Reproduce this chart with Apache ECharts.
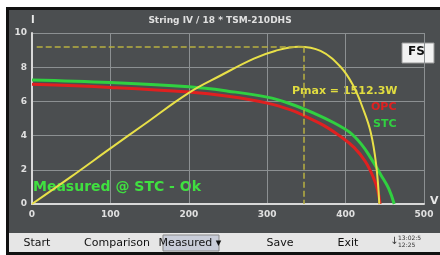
<!DOCTYPE html>
<html>
<head>
<meta charset="utf-8">
<script src="https://cdn.jsdelivr.net/npm/echarts@6/dist/echarts.min.js"></script>
<style>
html,body{margin:0;padding:0;background:#fff;}
#main{width:440px;height:255px;}
</style>
</head>
<body>
<div id="main"></div>
<script>
// curva potenza (scala schermo)
var powerV = [0, 50, 100, 142, 200, 240, 283, 310, 340, 368, 394, 410, 422, 432, 439, 443];
var powerI = [0, 1.6, 3.25, 4.62, 6.5, 7.5, 8.5, 8.95, 9.2, 8.95, 8.0, 6.9, 5.6, 4.2, 2.3, 0];
// curva I-V misurata (OPC)
var opcV = [0, 100, 200, 250, 300, 330, 350, 372, 392, 411, 425, 435, 441, 444];
var opcI = [7.0, 6.82, 6.55, 6.3, 5.9, 5.5, 5.1, 4.6, 4.0, 3.3, 2.5, 1.6, 0.8, 0];
// curva I-V riportata a STC
var stcV = [0, 100, 200, 250, 300, 330, 360, 385, 405, 420, 432, 445, 455, 462];
var stcI = [7.25, 7.1, 6.85, 6.6, 6.25, 5.85, 5.3, 4.75, 4.2, 3.5, 2.7, 1.7, 0.9, 0];
var pmaxV = 347, pmaxLevel = 9.2;
var xTicks = [0, 100, 200, 300, 400, 500];
var yTicks = [0, 2, 4, 6, 8, 10];
var toolbarLabels = ['Start', 'Comparison', 'Measured \u25BE', 'Save', 'Exit'];

function pairs(xs, ys){
    return xs.map(function(x, i){ return [x, ys[i]]; });
}

var screen = '#4b4e50';
var font = 'DejaVu Sans';
var chart = echarts.init(document.getElementById('main'));

var g = [
    // cornice
    {type:'rect', z:-10, shape:{x:6,y:7,width:434,height:248}, style:{fill:'#111'}},
    {type:'rect', z:-9, shape:{x:9,y:10,width:431,height:223}, style:{fill:screen}},
    {type:'rect', z:-9, shape:{x:9,y:233,width:431,height:19}, style:{fill:'#e6e6e6'}},
    // titolo e nomi assi
    {type:'text', left:'center', top:16, style:{text:'String IV / 18 * TSM-210DHS', fill:'#e0e0e0', font:'bold 9px '+font}},
    {type:'text', left:31, top:15, style:{text:'I', fill:'#e8e8e8', font:'bold 10px '+font}},
    {type:'text', left:430, top:196, style:{text:'V', fill:'#e8e8e8', font:'bold 11px '+font}},
    // FS
    {type:'rect', shape:{x:402,y:43,width:32,height:20}, style:{fill:'#f2f2f2', stroke:'#999', lineWidth:1}},
    {type:'text', left:408, top:46, style:{text:'FS', fill:'#111', font:'bold 12px '+font}},
    // etichette
    {type:'text', left:292, top:86, style:{text:'Pmax = 1512.3W', fill:'#e0dc40', font:'bold 11px '+font}},
    {type:'text', left:371, top:102, style:{text:'OPC', fill:'#e02020', font:'bold 11px '+font}},
    {type:'text', left:373, top:119, style:{text:'STC', fill:'#30d040', font:'bold 11px '+font}},
    {type:'text', left:33, top:180, style:{text:'Measured @ STC - Ok', fill:'#40e040', font:'bold 14px '+font}},
    // barra comandi
    {type:'rect', shape:{x:163,y:235,width:56,height:16}, style:{fill:'#c8ccd8', stroke:'#888', lineWidth:1}},
    {type:'text', left:390, top:236, style:{text:'\u2193', fill:'#333', font:'10px '+font}},
    {type:'text', left:398, top:235, style:{text:'13:02:5\n12:25', fill:'#333', font:'6px '+font, lineHeight:7}}
];
var toolbarX = [37, 117, 190, 280, 348];
toolbarLabels.forEach(function(t, i){
    g.push({type:'text', x:toolbarX[i], y:243, style:{text:t, fill:'#111', font:'11px '+font, align:'center', verticalAlign:'middle'}});
});

var option = {
    backgroundColor:'#fff',
    animation:false,
    grid:{left:32, right:16, top:33, bottom:51},
    xAxis:{
        type:'value', min:0, max:500, interval:100,
        axisLine:{onZero:false, lineStyle:{color:'#d8d8d8', width:2}},
        axisTick:{show:false},
        axisLabel:{color:'#e0e0e0', fontSize:9, fontWeight:'bold', fontFamily:font, margin:6,
            customValues:xTicks},
        splitLine:{show:true, lineStyle:{color:'#8c9092', width:1}}
    },
    yAxis:{
        type:'value', min:0, max:10, interval:2,
        axisLine:{show:true, lineStyle:{color:'#d8d8d8', width:2}},
        axisTick:{show:false},
        axisLabel:{color:'#e0e0e0', fontSize:9, fontWeight:'bold', fontFamily:font, margin:5,
            customValues:yTicks},
        splitLine:{show:true, lineStyle:{color:'#8c9092', width:1}}
    },
    graphic:g,
    series:[
        {
            name:'OPC', type:'line', data:pairs(opcV, opcI), smooth:0.4,
            symbol:'none', lineStyle:{color:'#e02020', width:3}, z:2
        },
        {
            name:'STC', type:'line', data:pairs(stcV, stcI), smooth:0.4,
            symbol:'none', lineStyle:{color:'#30d040', width:3}, z:3
        },
        {
            name:'P', type:'line', data:pairs(powerV, powerI), smooth:0.4,
            symbol:'none', lineStyle:{color:'#e8e048', width:2}, z:4,
            markLine:{
                silent:true, symbol:'none', label:{show:false},
                lineStyle:{color:'#b8b040', width:1.5, type:'dashed'},
                data:[
                    [{coord:[6, pmaxLevel]}, {coord:[pmaxV, pmaxLevel]}],
                    [{coord:[pmaxV, pmaxLevel]}, {coord:[pmaxV, 0]}]
                ]
            }
        }
    ]
};
chart.setOption(option);
</script>
</body>
</html>
